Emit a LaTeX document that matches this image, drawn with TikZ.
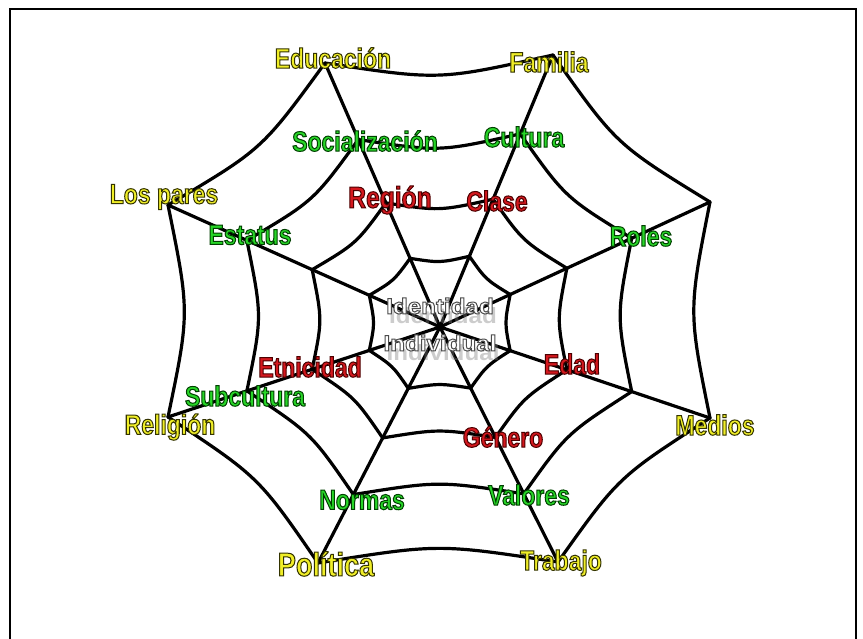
\documentclass[tikz,border=0pt]{standalone}
\usepackage{fontspec}
\usetikzlibrary{calc}
\newfontfamily\lblfont[FakeStretch=0.82]{Liberation Sans Bold}
\newfontfamily\idfont[FakeStretch=1.1]{Liberation Sans Bold}
\definecolor{lblyellow}{RGB}{240,238,40}
\definecolor{lblgreen}{RGB}{40,214,40}
\definecolor{lblred}{RGB}{212,24,30}
% outlined text: fill in current colour, stroke in the given RGB
\newcommand\olt[2]{\special{pdf:literal direct #1 RG 2 Tr 1.0 w}#2\special{pdf:literal direct 0 Tr}}
\tikzset{
  web/.style={line width=3.2pt, black, line cap=round, line join=round},
  framestyle/.style={line width=2.2pt, black},
  lbl/.style={inner sep=0pt, font=\lblfont\fontsize{28}{30}\selectfont},
  ylw/.style={lbl, text=lblyellow},
  grn/.style={lbl, text=lblgreen},
  rd/.style={lbl, text=lblred},
  idlbl/.style={inner sep=0pt, text=white, font=\idfont\fontsize{22}{24}\selectfont},
  idshadow/.style={inner sep=0pt, text=gray, opacity=0.4, font=\idfont\fontsize{22}{24}\selectfont}
}
\begin{document}
\begin{tikzpicture}[x=1pt,y=-1pt]
\useasboundingbox (0,0) rectangle (863,639);
\fill[white] (0,0) rectangle (863,639);
\draw[framestyle] (10,700) -- (10,9) -- (856,9) -- (856,700);
% web geometry
\coordinate (c) at (440,327);
\coordinate (v1) at (325,63);
\coordinate (v2) at (553,55);
\coordinate (v3) at (710,202);
\coordinate (v4) at (710,418);
\coordinate (v5) at (558,562);
\coordinate (v6) at (318,563);
\coordinate (v7) at (168,417);
\coordinate (v8) at (168,205);
\foreach \ri in {1,...,8} {\draw[web] (c) -- (v\ri);}
\foreach \rn/\tf in {a/1, b/0.71, d/0.47, e/0.26} {
  \foreach \ri in {1,...,8} {\coordinate (\rn\ri) at ($(c)!\tf!(v\ri)$);}
}
\foreach \rn in {a,b,d,e} {
  \foreach \ri [evaluate=\ri as \nx using {int(mod(\ri,8)+1)}] in {1,...,8} {
    \draw[web] (\rn\ri) .. controls ($(\rn\ri)!0.5!(\rn\nx)!0.08!(c)$) .. (\rn\nx);
  }
}
% centre text
\node[idshadow] (ids1) at (443,316) {Identidad};
\node[idshadow] (ids2) at (443,353) {Individual};
\node[idlbl] (id1) at (440,306) {\olt{0.3 0.3 0.3}{Identidad}};
\node[idlbl] (id2) at (440,343) {\olt{0.3 0.3 0.3}{Individual}};
% yellow labels
\node[ylw] (educ) at (333,58) {\olt{0.2 0.2 0}{Educación}};
\node[ylw] (fam) at (549,62) {\olt{0.2 0.2 0}{Familia}};
\node[ylw] (pares) at (164,197) {\olt{0.2 0.2 0}{Los pares}};
\node[ylw] (relig) at (170,427) {\olt{0.2 0.2 0}{Religión}};
\node[ylw] (medios) at (715,425) {\olt{0.2 0.2 0}{Medios}};
\node[ylw] (trab) at (561,563) {\olt{0.2 0.2 0}{Trabajo}};
\node[ylw, font=\lblfont\fontsize{33}{35}\selectfont] (polit) at (326,564) {\olt{0.2 0.2 0}{Política}};
% green labels
\node[grn] (social) at (365,141) {\olt{0 0.25 0}{Socialización}};
\node[grn] (cult) at (524,137) {\olt{0 0.25 0}{Cultura}};
\node[grn] (estat) at (250,235) {\olt{0 0.25 0}{Estatus}};
\node[grn] (roles) at (641,236) {\olt{0 0.25 0}{Roles}};
\node[grn] (subc) at (245,396) {\olt{0 0.25 0}{Subcultura}};
\node[grn] (norm) at (362,500) {\olt{0 0.25 0}{Normas}};
\node[grn] (valor) at (529,495) {\olt{0 0.25 0}{Valores}};
% red labels
\node[rd, font=\lblfont\fontsize{30}{32}\selectfont] (reg) at (390,200) {\olt{0.3 0 0}{Región}};
\node[rd] (clase) at (497,201) {\olt{0.3 0 0}{Clase}};
\node[rd] (etn) at (310,367) {\olt{0.3 0 0}{Etnicidad}};
\node[rd] (edad) at (572,364) {\olt{0.3 0 0}{Edad}};
\node[rd] (gen) at (503,437) {\olt{0.3 0 0}{Género}};
\end{tikzpicture}
\end{document}
